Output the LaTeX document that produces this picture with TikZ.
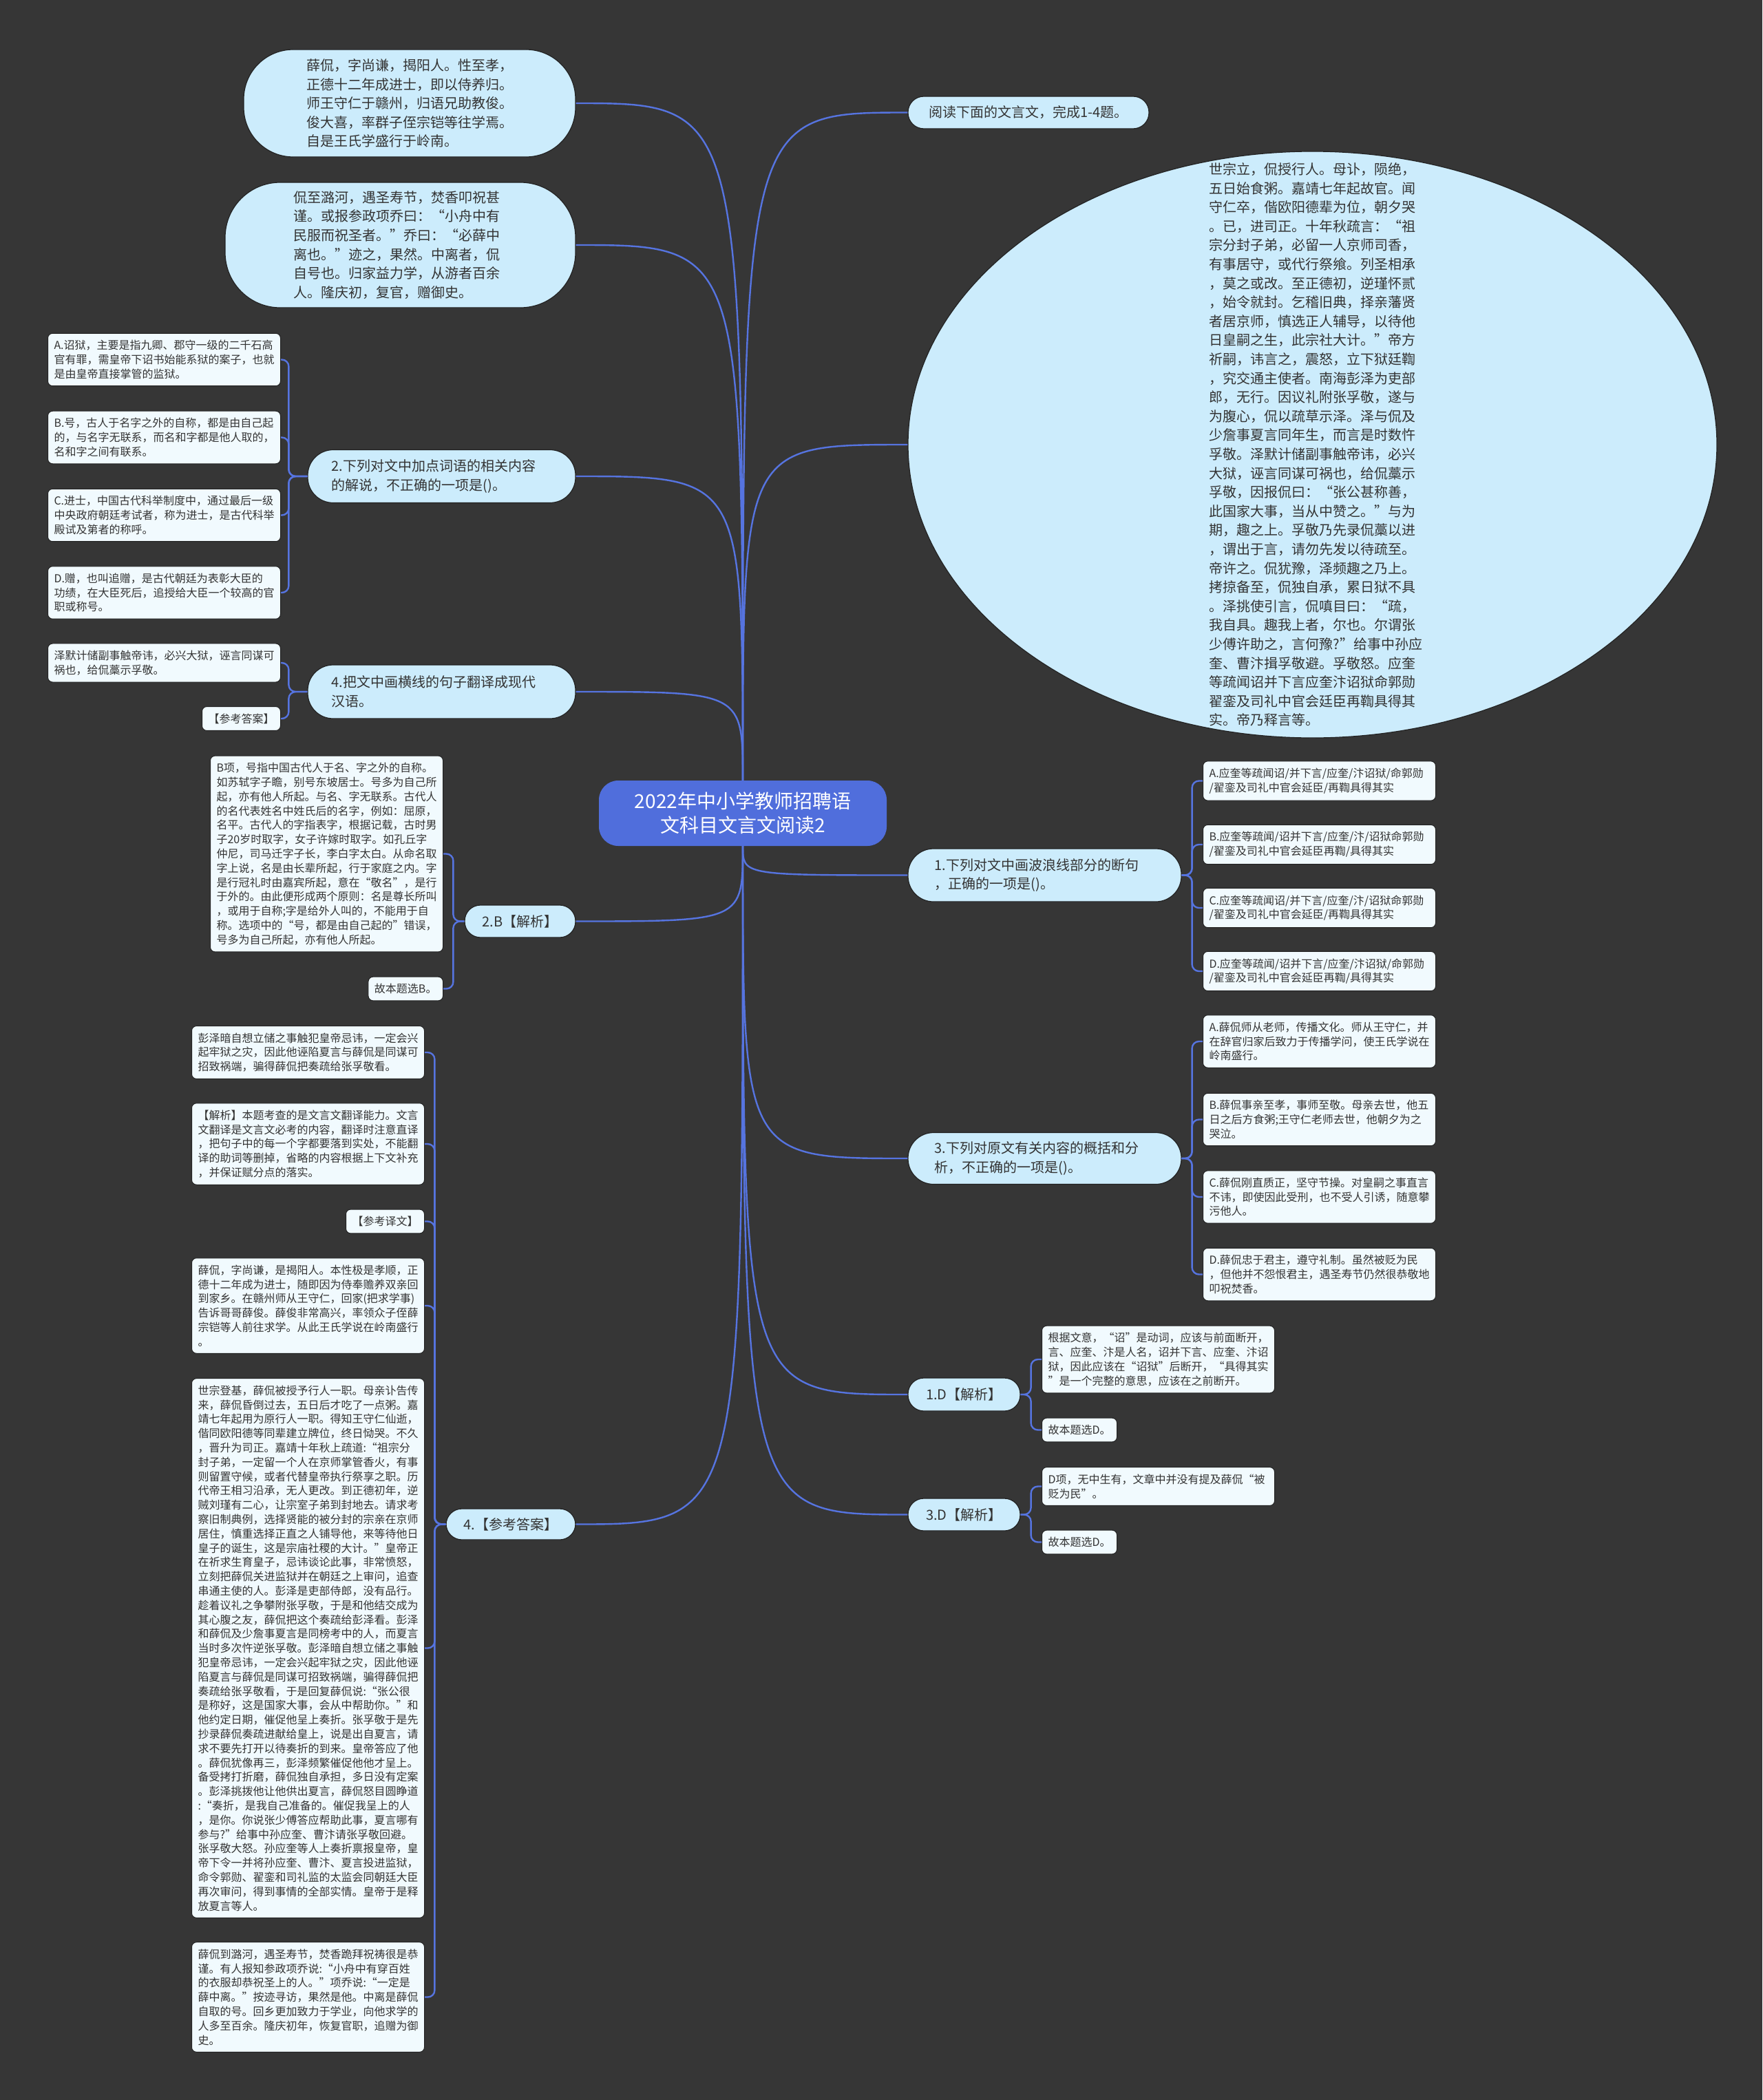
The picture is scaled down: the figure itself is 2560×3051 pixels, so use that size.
\documentclass[tikz,border=0pt]{standalone}
\usepackage{fontspec}
\setmainfont{Noto Sans CJK SC}
\usepackage{tikz}
\usetikzlibrary{shapes.geometric}
\definecolor{mapbg}{RGB}{54,54,54}
\definecolor{hubblue}{RGB}{80,110,220}
\definecolor{linkblue}{RGB}{86,116,224}
\definecolor{topicbg}{RGB}{204,236,252}
\definecolor{leafbg}{RGB}{241,250,254}
\definecolor{rimgray}{RGB}{34,34,34}
\definecolor{inkgray}{RGB}{51,51,51}
\newcommand{\hubfont}{\fontsize{28}{35}\selectfont}
\newcommand{\topicfont}{\fontsize{20}{27.6}\selectfont}
\newcommand{\leaffont}{\fontsize{16}{20.8}\selectfont}

\begin{document}
\begin{tikzpicture}[
  x=1pt, y=-1pt,
  hub/.style={rectangle, rounded corners=28pt, fill=hubblue, text=white,
              font=\hubfont, align=center, minimum width=418pt, minimum height=95pt},
  topic/.style={rectangle, rounded corners=#1, draw=rimgray, line width=1.2pt,
                fill=topicbg, text=inkgray, font=\topicfont, align=left,
                inner xsep=0pt, inner ysep=0pt},
  topic/.default=23pt,
  leaf/.style={rectangle, rounded corners=7pt, draw=rimgray, line width=1pt,
               fill=leafbg, text=inkgray, font=\leaffont, align=left,
               inner xsep=9pt, inner ysep=10pt},
  longleaf/.style={leaf, text width=320pt},
  limb/.style={draw=linkblue, line width=2.4pt},
  twig/.style={draw=linkblue, line width=2.4pt, rounded corners=10pt}
]
\useasboundingbox (0,0) rectangle (2560,3051);
\fill[mapbg] (0,0) rectangle (2560,3051);

% centre
\node[hub] (core) at (1079,1181.5) {2022年中小学教师招聘语\\文科目文言文阅读2};

% left, upper
\node[topic=72pt, text width=300pt, minimum width=482pt, minimum height=156pt]
  (bubA) at (595,150)
  {薛侃，字尚谦，揭阳人。性至孝，\\正德十二年成进士，即以侍养归。\\师王守仁于赣州，归语兄助教俊。\\俊大喜，率群子侄宗铠等往学焉。\\自是王氏学盛行于岭南。};
\node[topic=80pt, text width=310pt, minimum width=509pt, minimum height=182pt]
  (bubB) at (581.5,356)
  {侃至潞河，遇圣寿节，焚香叩祝甚\\谨。或报参政项乔曰：“小舟中有\\民服而祝圣者。”乔曰：“必薛中\\离也。”迹之，果然。中离者，侃\\自号也。归家益力学，从游者百余\\人。隆庆初，复官，赠御史。};
\node[topic=37pt, text width=320pt, minimum width=389pt, minimum height=77pt]
  (q2) at (641.5,692) {2.下列对文中加点词语的相关内容\\的解说，不正确的一项是()。};
\node[topic=37pt, text width=320pt, minimum width=389pt, minimum height=78pt]
  (q4) at (641.5,1005) {4.把文中画横线的句子翻译成现代\\汉语。};

\node[longleaf, anchor=east] (optA2) at (408,522.5)
  {A.诏狱，主要是指九卿、郡守一级的二千石高\\官有罪，需皇帝下诏书始能系狱的案子，也就\\是由皇帝直接掌管的监狱。};
\node[longleaf, anchor=east] (optB2) at (408,635.5)
  {B.号，古人于名字之外的自称，都是由自己起\\的，与名字无联系，而名和字都是他人取的，\\名和字之间有联系。};
\node[longleaf, anchor=east] (optC2) at (408,748.5)
  {C.进士，中国古代科举制度中，通过最后一级\\中央政府朝廷考试者，称为进士，是古代科举\\殿试及第者的称呼。};
\node[longleaf, anchor=east] (optD2) at (408,861)
  {D.赠，也叫追赠，是古代朝廷为表彰大臣的\\功绩，在大臣死后，追授给大臣一个较高的官\\职或称号。};
\node[longleaf, anchor=east] (ans4) at (408,963)
  {泽默计储副事触帝讳，必兴大狱，诬言同谋可\\祸也，给侃藁示孚敬。};
\node[leaf, anchor=east] (ref4) at (408,1044) {【参考答案】};

% left, lower
\node[topic, minimum width=161pt, minimum height=47pt] (a2) at (755.5,1338.5) {2.B【解析】};
\node[longleaf, anchor=east] (exp2) at (644,1240.5)
  {B项，号指中国古代人于名、字之外的自称。\\如苏轼字子瞻，别号东坡居士。号多为自己所\\起，亦有他人所起。与名、字无联系。古代人\\的名代表姓名中姓氏后的名字，例如：屈原，\\名平。古代人的字指表字，根据记载，古时男\\子20岁时取字，女子许嫁时取字。如孔丘字\\仲尼，司马迁字子长，李白字太白。从命名取\\字上说，名是由长辈所起，行于家庭之内。字\\是行冠礼时由嘉宾所起，意在“敬名”，是行\\于外的。由此便形成两个原则：名是尊长所叫\\，或用于自称;字是给外人叫的，不能用于自\\称。选项中的“号，都是由自己起的”错误，\\号多为自己所起，亦有他人所起。};
\node[leaf, anchor=east] (pick2) at (644,1436.5) {故本题选B。};

\node[topic, minimum width=188pt, minimum height=45pt] (a4) at (742,2214.5) {4.【参考答案】};
\node[longleaf, anchor=east] (t1) at (617,1529)
  {彭泽暗自想立储之事触犯皇帝忌讳，一定会兴\\起牢狱之灾，因此他诬陷夏言与薛侃是同谋可\\招致祸端，骗得薛侃把奏疏给张孚敬看。};
\node[longleaf, anchor=east] (t2) at (617,1662)
  {【解析】本题考查的是文言文翻译能力。文言\\文翻译是文言文必考的内容，翻译时注意直译\\，把句子中的每一个字都要落到实处，不能翻\\译的助词等删掉，省略的内容根据上下文补充\\，并保证赋分点的落实。};
\node[leaf, anchor=east] (t3) at (617,1774.5) {【参考译文】};
\node[longleaf, anchor=east] (t4) at (617,1897)
  {薛侃，字尚谦，是揭阳人。本性极是孝顺，正\\德十二年成为进士，随即因为侍奉赡养双亲回\\到家乡。在赣州师从王守仁，回家(把求学事)\\告诉哥哥薛俊。薛俊非常高兴，率领众子侄薛\\宗铠等人前往求学。从此王氏学说在岭南盛行\\。};
\node[longleaf, anchor=east] (t5) at (617,2394.5)
  {世宗登基，薛侃被授予行人一职。母亲讣告传\\来，薛侃昏倒过去，五日后才吃了一点粥。嘉\\靖七年起用为原行人一职。得知王守仁仙逝，\\偕同欧阳德等同辈建立牌位，终日恸哭。不久\\，晋升为司正。嘉靖十年秋上疏道:“祖宗分\\封子弟，一定留一个人在京师掌管香火，有事\\则留置守候，或者代替皇帝执行祭享之职。历\\代帝王相习沿承，无人更改。到正德初年，逆\\贼刘瑾有二心，让宗室子弟到封地去。请求考\\察旧制典例，选择贤能的被分封的宗亲在京师\\居住，慎重选择正直之人铺导他，来等待他日\\皇子的诞生，这是宗庙社稷的大计。”皇帝正\\在祈求生育皇子，忌讳谈论此事，非常愤怒，\\立刻把薛侃关进监狱并在朝廷之上审问，追查\\串通主使的人。彭泽是吏部侍郎，没有品行。\\趁着议礼之争攀附张孚敬，于是和他结交成为\\其心腹之友，薛侃把这个奏疏给彭泽看。彭泽\\和薛侃及少詹事夏言是同榜考中的人，而夏言\\当时多次忤逆张孚敬。彭泽暗自想立储之事触\\犯皇帝忌讳，一定会兴起牢狱之灾，因此他诬\\陷夏言与薛侃是同谋可招致祸端，骗得薛侃把\\奏疏给张孚敬看，于是回复薛侃说:“张公很\\是称好，这是国家大事，会从中帮助你。”和\\他约定日期，催促他呈上奏折。张孚敬于是先\\抄录薛侃奏疏进献给皇上，说是出自夏言，请\\求不要先打开以待奏折的到来。皇帝答应了他\\。薛侃犹像再三，彭泽频繁催促他他才呈上。\\备受拷打折磨，薛侃独自承担，多日没有定案\\。彭泽挑拨他让他供出夏言，薛侃怒目圆睁道\\:“奏折，是我自己准备的。催促我呈上的人\\，是你。你说张少傅答应帮助此事，夏言哪有\\参与?”给事中孙应奎、曹汴请张孚敬回避。\\张孚敬大怒。孙应奎等人上奏折禀报皇帝，皇\\帝下令一并将孙应奎、曹汴、夏言投进监狱，\\命令郭勋、翟銮和司礼监的太监会同朝廷大臣\\再次审问，得到事情的全部实情。皇帝于是释\\放夏言等人。};
\node[longleaf, anchor=east] (t6) at (617,2901.5)
  {薛侃到潞河，遇圣寿节，焚香跪拜祝祷很是恭\\谨。有人报知参政项乔说:“小舟中有穿百姓\\的衣服却恭祝圣上的人。”项乔说:“一定是\\薛中离。”按迹寻访，果然是他。中离是薛侃\\自取的号。回乡更加致力于学业，向他求学的\\人多至百余。隆庆初年，恢复官职，追赠为御\\史。};

% right, upper
\node[topic, minimum width=350pt, minimum height=47pt] (intro) at (1494,163.5) {阅读下面的文言文，完成1-4题。};
\node[topic, ellipse, minimum width=1175pt, minimum height=852pt] (passage) at (1906.5,646) {};
\node[font=\topicfont, text=inkgray, text width=300pt, align=left, inner sep=0pt]
  (passagetext) at (passage.center)
  {世宗立，侃授行人。母讣，陨绝，\\五日始食粥。嘉靖七年起故官。闻\\守仁卒，偕欧阳德辈为位，朝夕哭\\。已，进司正。十年秋疏言：“祖\\宗分封子弟，必留一人京师司香，\\有事居守，或代行祭飨。列圣相承\\，莫之或改。至正德初，逆瑾怀贰\\，始令就封。乞稽旧典，择亲藩贤\\者居京师，慎选正人辅导，以待他\\日皇嗣之生，此宗社大计。”帝方\\祈嗣，讳言之，震怒，立下狱廷鞫\\，究交通主使者。南海彭泽为吏部\\郎，无行。因议礼附张孚敬，遂与\\为腹心，侃以疏草示泽。泽与侃及\\少詹事夏言同年生，而言是时数忤\\孚敬。泽默计储副事触帝讳，必兴\\大狱，诬言同谋可祸也，给侃藁示\\孚敬，因报侃曰：“张公甚称善，\\此国家大事，当从中赞之。”与为\\期，趣之上。孚敬乃先录侃藁以进\\，谓出于言，请勿先发以待疏至。\\帝许之。侃犹豫，泽频趣之乃上。\\拷掠备至，侃独自承，累日狱不具\\。泽挑使引言，侃嗔目曰：“疏，\\我自具。趣我上者，尔也。尔谓张\\少傅许助之，言何豫?”给事中孙应\\奎、曹汴揖孚敬避。孚敬怒。应奎\\等疏闻诏并下言应奎汴诏狱命郭勋\\翟銮及司礼中官会廷臣再鞫具得其\\实。帝乃释言等。};

% right, lower
\node[topic=37pt, text width=320pt, minimum width=397pt, minimum height=77pt]
  (q1) at (1517.5,1271.5) {1.下列对文中画波浪线部分的断句\\，正确的一项是()。};
\node[longleaf, anchor=west] (optA1) at (1747,1134.5)
  {A.应奎等疏闻诏/并下言/应奎/汴诏狱/命郭勋\\/翟銮及司礼中官会延臣/再鞫具得其实};
\node[longleaf, anchor=west] (optB1) at (1747,1227)
  {B.应奎等疏闻/诏并下言/应奎/汴/诏狱命郭勋\\/翟銮及司礼中官会延臣再鞫/具得其实};
\node[longleaf, anchor=west] (optC1) at (1747,1319)
  {C.应奎等疏闻诏/并下言/应奎/汴/诏狱命郭勋\\/翟銮及司礼中官会延臣/再鞫具得其实};
\node[longleaf, anchor=west] (optD1) at (1747,1411)
  {D.应奎等疏闻/诏并下言/应奎/汴诏狱/命郭勋\\/翟銮及司礼中官会延臣再鞫/具得其实};

\node[topic=37pt, text width=320pt, minimum width=397pt, minimum height=75pt]
  (q3) at (1517.5,1683) {3.下列对原文有关内容的概括和分\\析，不正确的一项是()。};
\node[longleaf, anchor=west] (optA3) at (1747,1513)
  {A.薛侃师从老师，传播文化。师从王守仁，并\\在辞官归家后致力于传播学问，使王氏学说在\\岭南盛行。};
\node[longleaf, anchor=west] (optB3) at (1747,1626.5)
  {B.薛侃事亲至孝，事师至敬。母亲去世，他五\\日之后方食粥;王守仁老师去世，他朝夕为之\\哭泣。};
\node[longleaf, anchor=west] (optC3) at (1747,1739)
  {C.薛侃刚直质正，坚守节操。对皇嗣之事直言\\不讳，即使因此受刑，也不受人引诱，随意攀\\污他人。};
\node[longleaf, anchor=west] (optD3) at (1747,1851.5)
  {D.薛侃忠于君主，遵守礼制。虽然被贬为民\\，但他并不怨恨君主，遇圣寿节仍然很恭敬地\\叩祝焚香。};

\node[topic, minimum width=163pt, minimum height=48pt] (a1) at (1400.5,2026) {1.D【解析】};
\node[longleaf, anchor=west] (exp1) at (1513,1975)
  {根据文意，“诏”是动词，应该与前面断开，\\言、应奎、汴是人名，诏并下言、应奎、汴诏\\狱，因此应该在“诏狱”后断开，“具得其实\\”是一个完整的意思，应该在之前断开。};
\node[leaf, anchor=west] (pick1) at (1513,2077.5) {故本题选D。};

\node[topic, minimum width=163pt, minimum height=47pt] (a3) at (1400.5,2200.5) {3.D【解析】};
\node[longleaf, anchor=west] (exp3) at (1513,2159.5)
  {D项，无中生有，文章中并没有提及薛侃“被\\贬为民”。};
\node[leaf, anchor=west] (pick3) at (1513,2240.5) {故本题选D。};

% main branches
\draw[limb] (core.north) .. controls (core.north |- bubA.east) .. (bubA.east);
\draw[limb] (core.north) .. controls (core.north |- bubB.east) .. (bubB.east);
\draw[limb] (core.north) .. controls (core.north |- q2.east) .. (q2.east);
\draw[limb] (core.north) .. controls (core.north |- q4.east) .. (q4.east);
\draw[limb] (core.north) .. controls (core.north |- intro.west) .. (intro.west);
\draw[limb] (core.north) .. controls (core.north |- passage.west) .. (passage.west);
\draw[limb] (core.south) .. controls (core.south |- a2.east) .. (a2.east);
\draw[limb] (core.south) .. controls (core.south |- a4.east) .. (a4.east);
\draw[limb] (core.south) .. controls (core.south |- q1.west) .. (q1.west);
\draw[limb] (core.south) .. controls (core.south |- q3.west) .. (q3.west);
\draw[limb] (core.south) .. controls (core.south |- a1.west) .. (a1.west);
\draw[limb] (core.south) .. controls (core.south |- a3.west) .. (a3.west);

% sub branches
\draw[twig] (q2.west) -- ++(-27,0) |- (optA2.east);
\draw[twig] (q2.west) -- ++(-27,0) |- (optB2.east);
\draw[twig] (q2.west) -- ++(-27,0) |- (optC2.east);
\draw[twig] (q2.west) -- ++(-27,0) |- (optD2.east);
\draw[twig] (q4.west) -- ++(-27,0) |- (ans4.east);
\draw[twig] (q4.west) -- ++(-27,0) |- (ref4.east);
\draw[twig] (a2.west) -- ++(-16,0) |- (exp2.east);
\draw[twig] (a2.west) -- ++(-16,0) |- (pick2.east);
\draw[twig] (a4.west) -- ++(-16,0) |- (t1.east);
\draw[twig] (a4.west) -- ++(-16,0) |- (t2.east);
\draw[twig] (a4.west) -- ++(-16,0) |- (t3.east);
\draw[twig] (a4.west) -- ++(-16,0) |- (t4.east);
\draw[twig] (a4.west) -- ++(-16,0) |- (t5.east);
\draw[twig] (a4.west) -- ++(-16,0) |- (t6.east);
\draw[twig] (q1.east) -- ++(15,0) |- (optA1.west);
\draw[twig] (q1.east) -- ++(15,0) |- (optB1.west);
\draw[twig] (q1.east) -- ++(15,0) |- (optC1.west);
\draw[twig] (q1.east) -- ++(15,0) |- (optD1.west);
\draw[twig] (q3.east) -- ++(15,0) |- (optA3.west);
\draw[twig] (q3.east) -- ++(15,0) |- (optB3.west);
\draw[twig] (q3.east) -- ++(15,0) |- (optC3.west);
\draw[twig] (q3.east) -- ++(15,0) |- (optD3.west);
\draw[twig] (a1.east) -- ++(15,0) |- (exp1.west);
\draw[twig] (a1.east) -- ++(15,0) |- (pick1.west);
\draw[twig] (a3.east) -- ++(15,0) |- (exp3.west);
\draw[twig] (a3.east) -- ++(15,0) |- (pick3.west);
\end{tikzpicture}
\end{document}
